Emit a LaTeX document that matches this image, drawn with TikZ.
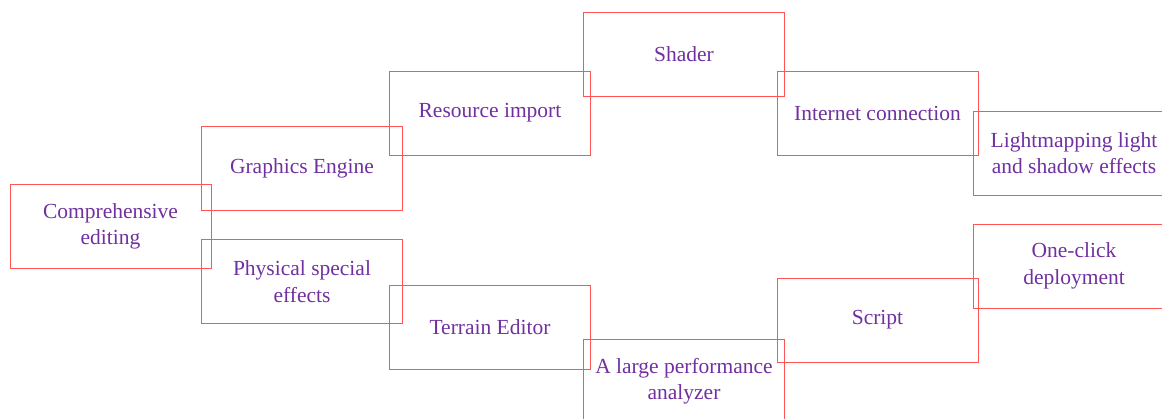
\documentclass[tikz,border=0pt]{standalone}
\usepackage{fontspec}
\setmainfont{Liberation Serif}
\definecolor{boxred}{RGB}{255,85,85}
\definecolor{labelpurple}{RGB}{112,48,160}
\tikzset{
  feature/.style={draw=boxred, line width=1pt, rectangle,
    minimum width=201pt, minimum height=84pt, inner sep=0pt,
    align=center, text=labelpurple,
    font=\fontsize{21.5pt}{26.5pt}\selectfont}
}
\begin{document}
\begin{tikzpicture}[x=1pt,y=-1pt]
  \useasboundingbox (0,0) rectangle (1162,418);
  \clip (0,0) rectangle (1162,418);
  \node[feature] (comp)     at (110.5,226.5) {Comprehensive\\editing};
  \node[feature] (graphics) at (302,168)     {Graphics Engine};
  \node[feature] (physical) at (302,281.5)   {Physical special\\effects};
  \node[feature] (resource) at (490,113)     {Resource import};
  \node[feature] (terrain)  at (490,327)     {Terrain Editor};
  \node[feature] (shader)   at (684,54)      {Shader};
  \node[feature] (analyzer) at (684,381)     {A large performance\\analyzer};
  \node[feature] (internet) at (877.5,113)   {Internet connection};
  \node[feature] (script)   at (877.5,320)   {Script};
  \node[feature] (light)    at (1074,153)    {Lightmapping light\\and shadow effects};
  \node[feature] (oneclick) at (1074,266)    {One-click\\deployment};
\end{tikzpicture}
\end{document}
